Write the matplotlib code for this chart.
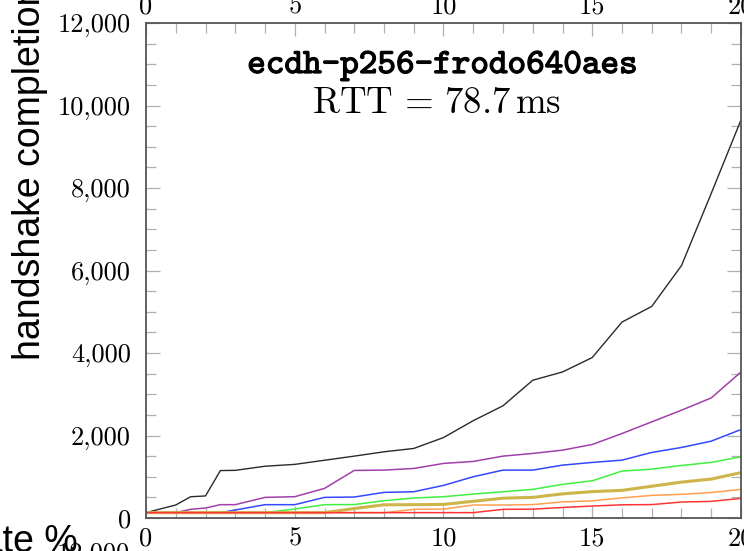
import numpy as np
import matplotlib
matplotlib.use("Agg")
import matplotlib.pyplot as plt
from matplotlib.ticker import MultipleLocator, FuncFormatter
import matplotlib.patheffects as pe

plt.rcParams['mathtext.fontset'] = 'cm'

# loss rate (%) sample points
xs = [0, 1, 1.5, 2, 2.5, 3, 4, 5, 6, 7, 8, 9, 10, 11, 12, 13, 14, 15, 16, 17, 18, 19, 20]

# handshake completion time (ms), one series per percentile
black = [130, 315, 515, 535, 1150, 1155, 1255, 1300, 1400, 1500, 1605, 1686, 1950,
         2360, 2720, 3340, 3540, 3890, 4750, 5130, 6120, 7870, 9650]
purple = [130, 130, 210, 242, 323, 323, 500, 516, 718, 1153, 1161, 1201, 1323,
          1371, 1500, 1565, 1645, 1782, 2048, 2331, 2613, 2911, 3540]
blue = [130, 130, 130, 130, 130, 194, 323, 323, 500, 508, 621, 637, 790,
        1000, 1161, 1161, 1282, 1347, 1403, 1589, 1710, 1863, 2145]
green = [130, 130, 130, 130, 130, 130, 130, 218, 323, 326, 419, 484, 516,
         581, 637, 694, 815, 903, 1137, 1185, 1274, 1347, 1484]
olive = [130, 130, 130, 130, 130, 130, 130, 130, 130, 230, 320, 323, 330,
         405, 480, 500, 585, 640, 670, 770, 870, 944, 1100]
orange = [130, 130, 130, 130, 130, 130, 130, 130, 130, 130, 130, 210, 215,
          315, 315, 325, 390, 415, 488, 548, 573, 617, 694]
red = [130, 130, 130, 130, 130, 130, 130, 130, 130, 130, 130, 130, 130,
       130, 210, 215, 255, 290, 320, 325, 387, 403, 476]

series = [
    (black, '#2a2a2a', 1.0),
    (purple, '#a040a8', 1.1),
    (blue, '#3348ff', 1.1),
    (green, '#40f040', 1.1),
    (olive, '#cdb54a', 2.2),
    (orange, '#ffa050', 1.1),
    (red, '#ff3535', 1.1),
]

W, H = 744, 551
fig = plt.figure(figsize=(W / 100, H / 100), dpi=100)
ax = fig.add_axes([146 / W, 1 - 518 / H, (741 - 146) / W, (518 - 23) / H])

for ys, c, lw in series:
    ax.plot(xs, ys, color=c, lw=lw, solid_joinstyle='round')

ax.set_xlim(0, 20)
ax.set_ylim(0, 12000)
ax.set_axisbelow(True)

ax.xaxis.set_major_locator(MultipleLocator(5))
ax.xaxis.set_minor_locator(MultipleLocator(1))
ax.yaxis.set_major_locator(MultipleLocator(2000))
ax.yaxis.set_minor_locator(MultipleLocator(500))
ax.yaxis.set_major_formatter(FuncFormatter(lambda v, p: f"{int(v):,}"))

tick_font = 'cmr10'
tick_size = 19
ax.tick_params(axis='both', which='both', direction='in', color='#b0b0b0', width=0.9,
               top=True, right=True)
ax.tick_params(axis='x', which='major', length=9, pad=6)
ax.tick_params(axis='x', which='minor', length=7)
ax.tick_params(axis='y', which='major', length=10, pad=11)
ax.tick_params(axis='y', which='minor', length=7)
for lab in ax.get_xticklabels() + ax.get_yticklabels():
    lab.set_fontfamily(tick_font)
    lab.set_fontsize(tick_size)

for s in ax.spines.values():
    s.set_color('#555555')
    s.set_linewidth(1.3)

top = ax.secondary_xaxis('top')
top.set_xticks([0, 5, 10, 15, 20])
top.tick_params(length=0, pad=3)
top.spines['top'].set_visible(False)
for lab in top.get_xticklabels():
    lab.set_fontfamily(tick_font)
    lab.set_fontsize(tick_size)

# title block
fig.text(442.5 / W, 1 - 73 / H, 'ecdh-p256-frodo640aes', family='cmtt10', fontsize=25.5,
         ha='center', va='baseline',
         path_effects=[pe.withStroke(linewidth=0.9, foreground='black')])
fig.text(436.5 / W, 1 - 113 / H, r'$\mathrm{RTT}\,=\,78.7\,\mathrm{ms}$', fontsize=26.5,
         ha='center', va='baseline')

# axis label (cut off by the figure edge, as in the source layout)
fig.text(40 / W, 1 - 360 / H, 'handshake completion time (ms)', family='Liberation Sans',
         fontsize=27, rotation=90, rotation_mode='anchor', ha='left', va='baseline')

# fragments of neighbouring panels
fig.text(78 / W, -1 / H, 'loss rate %', family='Liberation Sans', fontsize=27,
         ha='right', va='baseline')
fig.text(130 / W, 1 - 561 / H, '12,000', family=tick_font, fontsize=tick_size,
         ha='right', va='baseline')

fig.savefig('out.png', dpi=100)
